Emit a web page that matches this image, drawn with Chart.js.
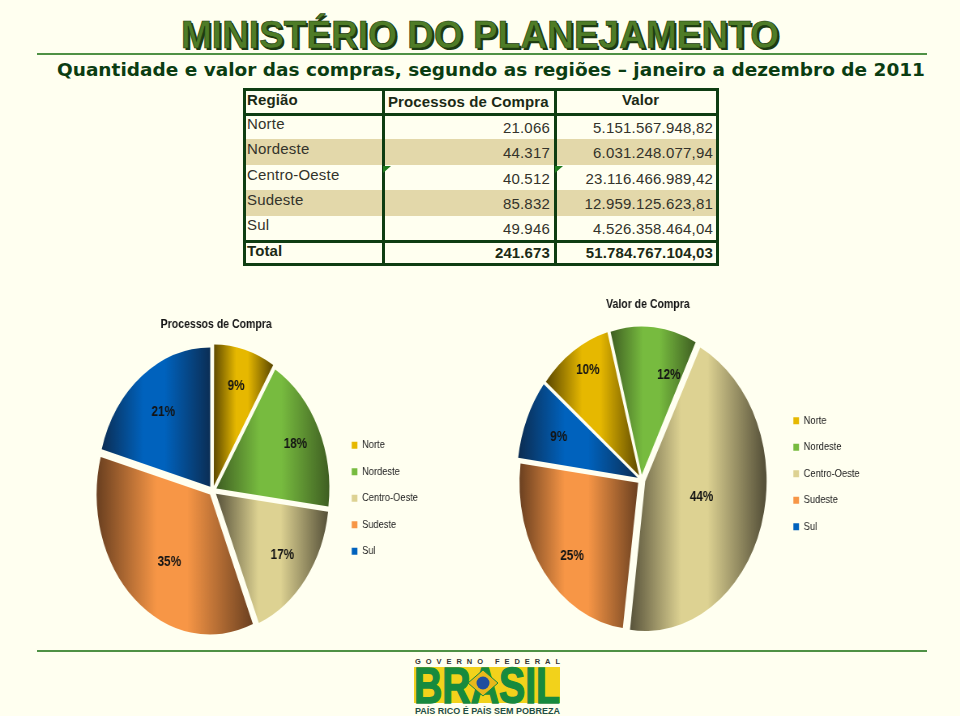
<!DOCTYPE html>
<html lang="pt-BR">
<head>
<meta charset="utf-8">
<title>Ministério do Planejamento</title>
<script src="https://cdn.jsdelivr.net/npm/chart.js@4"></script>
<style>
html,body{margin:0;padding:0;background:#FFFFF0;}
body{position:relative;width:960px;height:716px;overflow:hidden;font-family:"Liberation Sans",Arial,sans-serif;}
#heading{position:absolute;left:181px;top:14px;font:bold 38px "Liberation Sans",Arial,sans-serif;color:#4E7C27;white-space:nowrap;transform-origin:0 0;-webkit-text-stroke:.7px #1C3A10;text-shadow:2px 2px 0 #1C3A10;}
#subtitle{position:absolute;left:57px;top:60px;font:bold 17px "DejaVu Sans",Verdana,sans-serif;color:#0B3D12;white-space:nowrap;transform-origin:0 0;}
.rule{position:absolute;left:37px;width:890px;height:2px;background:#4F9145;}
#table{position:absolute;left:243px;top:88px;width:476px;height:178px;box-sizing:border-box;border:3px solid #0E3D12;background:#FFFFF0;color:#33332B;font-size:15px;}
#table .band{position:absolute;left:0;right:0;height:26px;background:#E3D8AA;}
#table .vl{position:absolute;top:0;bottom:0;width:3px;background:#0E3D12;}
#table .hl{position:absolute;left:0;right:0;height:3px;background:#0E3D12;}
#table .c{position:absolute;white-space:nowrap;line-height:18px;letter-spacing:.2px;}
#table .b{font-weight:bold;letter-spacing:.12px;color:#1B2A16;}
#table .r{text-align:right;}
.tri{position:absolute;width:8px;height:7px;background:#1E7A1E;clip-path:polygon(0 0,100% 0,0 100%);}
.pie{position:absolute;transform-origin:0 0;transform:scaleX(.81);}
#logo{position:absolute;left:405px;top:655px;}
</style>
</head>
<body>
<div id="heading">MINISTÉRIO DO PLANEJAMENTO</div>
<div class="rule" style="top:53px"></div>
<div id="subtitle">Quantidade e valor das compras, segundo as regiões – janeiro a dezembro de 2011</div>
<div id="table"></div>
<div class="pie" style="left:0;top:312px"><canvas id="chartA" width="526" height="330"></canvas></div>
<div class="pie" style="left:440px;top:292px"><canvas id="chartB" width="528" height="352"></canvas></div>
<div class="rule" style="top:650px"></div>
<svg id="logo" width="165" height="61" viewBox="0 0 165 61">
  <text x="10" y="9" font-family="Liberation Sans" font-weight="bold" font-size="7.5" fill="#333" textLength="145" lengthAdjust="spacing">GOVERNO FEDERAL</text>
  <rect x="9" y="12" width="146" height="36" fill="#F2D21B"/>
  <text x="9" y="48" font-family="Liberation Sans" font-weight="bold" font-size="50" fill="#178A3E" stroke="#178A3E" stroke-width="1.5" textLength="146" lengthAdjust="spacingAndGlyphs">BRASIL</text>
  <polygon points="63,28 78,15 93,28 78,41" fill="#E8B81B" stroke="#178A3E"/>
  <circle cx="78" cy="28" r="6.5" fill="#1F4E9E"/>
  <text x="10" y="59" font-family="Liberation Sans" font-weight="bold" font-size="9.5" fill="#1F4E44" textLength="145" lengthAdjust="spacingAndGlyphs">PAÍS RICO É PAÍS SEM POBREZA</text>
</svg>
<script>
const regioes = ['Norte','Nordeste','Centro-Oeste','Sudeste','Sul'];
const processos = [21066,44317,40512,85832,49946];
const valores = [5151567948.82,6031248077.94,23116466989.42,12959125623.81,4526358464.04];
const totalProcessos = 241673;
const totalValor = 51784767104.03;
const rotulosProcessos = ['9%','18%','17%','35%','21%'];
const rotulosValor = ['10%','12%','44%','25%','9%'];
const cores = ['#E6B800','#77BB3F','#DDD292','#F79646','#0062BD'];
const coresEscuras = ['#5E4A00','#3F5F22','#57523A','#6B4020','#0B2E55'];

function fmt(n,dec){
  const s=n.toFixed(dec).split('.');
  const i=s[0].replace(/\B(?=(\d{3})+$)/g,'.');
  return dec?i+','+s[1]:i;
}
function fit(id,w){const e=document.getElementById(id);e.style.transform='scaleX('+(w/e.getBoundingClientRect().width)+')';}
fit('heading',598);
fit('subtitle',868);

// tabela
(function(){
  const t=document.getElementById('table');
  const add=(cls,css,txt)=>{const d=document.createElement('div');d.className=cls;d.style.cssText=css;if(txt!==undefined)d.textContent=txt;t.appendChild(d);};
  add('band','top:48px');add('band','top:99px');
  add('vl','left:136px');add('vl','left:308px');
  add('hl','top:22px');add('hl','top:149px');
  add('c b','left:1px;top:0px','Região');
  add('c b','left:142px;top:2px','Processos de Compra');
  add('c b','left:376px;top:0px','Valor');
  regioes.forEach((r,i)=>{
    const y=24+i*25.3;
    add('c','left:1px;top:'+(y)+'px',r);
    add('c r','right:166px;top:'+(y+4)+'px',fmt(processos[i],0));
    add('c r','right:3px;top:'+(y+4)+'px',fmt(valores[i],2));
  });
  add('c b','left:1px;top:151px','Total');
  add('c b r','right:166px;top:153px',fmt(totalProcessos,0));
  add('c b r','right:3px;top:153px',fmt(totalValor,2));
  add('tri','left:137px;top:75px');add('tri','left:309px;top:75px');
})();

const ESC = .81;
const fatias = {
  id:'fatias',
  afterLayout(chart,args,o){
    chart.legend.top+=o.legendaDy; chart.legend.bottom+=o.legendaDy;
    chart.titleBlock.left+=o.tituloDx; chart.titleBlock.right+=o.tituloDx;
  },
  beforeDatasetsDraw(chart){
    const c=chart.ctx;
    chart.getDatasetMeta(0).data.forEach((el,i)=>{
      const {x,startAngle:a,endAngle:b,outerRadius:R}=el;
      const xs=[x,x+R*Math.cos(a),x+R*Math.cos(b)];
      for(let k=-4;k<=4;k++){const t=k*Math.PI;if(t>a&&t<b)xs.push(x+R*Math.cos(t));}
      const g=c.createLinearGradient(Math.min(...xs),0,Math.max(...xs),0);
      g.addColorStop(0,coresEscuras[i]);
      g.addColorStop(.38,cores[i]);
      g.addColorStop(.58,cores[i]);
      g.addColorStop(1,coresEscuras[i]);
      el.options=Object.assign({},el.options,{backgroundColor:g});
    });
  },
  afterDatasetsDraw(chart,args,o){
    const c=chart.ctx;
    c.save();
    c.font='bold 14.5px "Liberation Sans"';
    c.fillStyle='#141414';c.textAlign='center';c.textBaseline='middle';
    chart.getDatasetMeta(0).data.forEach((el,i)=>{
      const {x,y,startAngle:a,endAngle:b,outerRadius:R}=el;
      const m=(a+b)/2;
      const [dx,dy]=o.ajustes[i];
      c.fillText(o.rotulos[i],x+Math.cos(m)*R*o.raios[i]+dx/ESC,y+Math.sin(m)*R*o.raios[i]+dy);
    });
    c.restore();
  }
};

function torta(id,titulo,dados,giro,R,tituloPad,pad,rotulos,raios,ajustes,legendaDy,tituloDx){
  new Chart(document.getElementById(id),{
    type:'pie',
    data:{labels:regioes,datasets:[{data:dados,backgroundColor:cores,borderWidth:0,offset:20}]},
    plugins:[fatias],
    options:{
      responsive:false,animation:false,rotation:giro,radius:R,
      layout:{padding:pad},
      plugins:{
        tooltip:{enabled:false},
        title:{display:true,text:titulo,fullSize:false,color:'#141414',font:{family:'"Liberation Sans"',size:13,weight:'bold'},padding:tituloPad},
        legend:{position:'right',fullSize:false,labels:{boxWidth:7,boxHeight:7,padding:15,color:'#222',font:{family:'"Liberation Sans"',size:11.5}}},
        fatias:{rotulos,raios,ajustes,legendaDy,tituloDx}
      }
    }
  });
}
torta('chartA','Processos de Compra',processos,0,139,{top:5,bottom:7.8},{left:106,bottom:1},rotulosProcessos,[.72,.75,.73,.64,.69],[[1.5,-8],[6.5,-2],[4.5,2],[4.5,5],[-2.5,-2]],7.5,4.3);
torta('chartB','Valor de Compra',valores,-51,146.5,{top:5,bottom:6.8},{left:76,bottom:4},rotulosValor,[.85,.74,.5,.75,.74],[[1.5,-5],[18.6,3],[3.5,-4.6],[1.3,9],[-2,0]],-6,8);
</script>
</body>
</html>
